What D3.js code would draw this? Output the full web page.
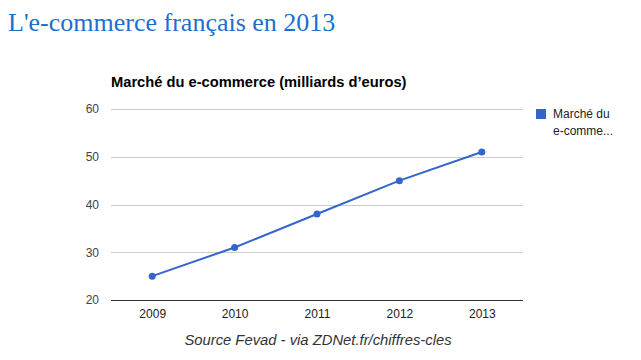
<!DOCTYPE html>
<html><head><meta charset="utf-8">
<script src="https://cdn.jsdelivr.net/npm/d3@7"></script>
<style>body{margin:0;background:#fff;} svg{display:block;}</style>
</head><body>
<script>
const years = ["2009","2010","2011","2012","2013"];
const values = [25, 31, 38, 45, 51];
const yTicks = [20, 30, 40, 50, 60];
const pageTitle = "L'e-commerce français en 2013";
const chartTitle = "Marché du e-commerce (milliards d’euros)";
const legendLines = ["Marché du", "e-comme..."];
const sourceText = "Source Fevad - via ZDNet.fr/chiffres-cles";

const W = 641, H = 360;
const svg = d3.select("body").append("svg").attr("width", W).attr("height", H);

svg.append("text").attr("x", 8).attr("y", 31)
  .attr("font-family", "Georgia, 'Liberation Serif', serif").attr("font-size", 26)
  .attr("fill", "#1a6fcf").text(pageTitle);

const m = {left: 111, right: 523, top: 109, bottom: 300};
const x = d3.scalePoint().domain(years).range([m.left, m.right]).padding(0.5);
const y = d3.scaleLinear().domain([20, 60]).range([m.bottom, m.top]);

svg.append("text").attr("x", 111).attr("y", 87)
  .attr("font-family", "Arial, 'Liberation Sans', sans-serif").attr("font-size", 14.7)
  .attr("font-weight", "bold").attr("fill", "#000").text(chartTitle);

const grid = svg.append("g");
grid.selectAll("line").data(yTicks.slice(1)).join("line")
  .attr("x1", m.left).attr("x2", m.right)
  .attr("y1", d => Math.round(y(d)) + 0.5).attr("y2", d => Math.round(y(d)) + 0.5)
  .attr("stroke", "#cccccc");

const yAxis = d3.axisLeft(y).tickValues(yTicks).tickSize(0).tickPadding(12);
const ya = svg.append("g").attr("transform", `translate(${m.left},0)`).call(yAxis);
ya.select(".domain").remove();
ya.selectAll("text").attr("font-family", "Arial, 'Liberation Sans', sans-serif")
  .attr("font-size", 12).attr("fill", "#444");

const xAxis = d3.axisBottom(x).tickSize(0).tickPadding(9);
const xa = svg.append("g").attr("transform", `translate(0,${Math.round(y(20)) + 0.5})`).call(xAxis);
xa.select(".domain").attr("stroke", "#333").attr("d", `M${m.left},0H${m.right}`);
xa.selectAll("text").attr("font-family", "Arial, 'Liberation Sans', sans-serif")
  .attr("font-size", 12).attr("fill", "#222");

const line = d3.line().x((d, i) => x(years[i])).y(d => y(d));
svg.append("path").datum(values).attr("d", line)
  .attr("fill", "none").attr("stroke", "#3366cc").attr("stroke-width", 2);
svg.selectAll("circle.pt").data(values).join("circle").attr("class", "pt")
  .attr("cx", (d, i) => x(years[i])).attr("cy", d => y(d)).attr("r", 3.5)
  .attr("fill", "#3366cc");

svg.append("rect").attr("x", 536).attr("y", 109).attr("width", 10).attr("height", 10).attr("fill", "#3366cc");
svg.selectAll("text.leg").data(legendLines).join("text").attr("class", "leg")
  .attr("x", 553).attr("y", (d, i) => 118 + i * 17)
  .attr("font-family", "Arial, 'Liberation Sans', sans-serif").attr("font-size", 12)
  .attr("fill", "#222").text(d => d);

svg.append("text").attr("x", 318).attr("y", 345).attr("text-anchor", "middle")
  .attr("font-family", "Arial, 'Liberation Sans', sans-serif").attr("font-size", 14.8)
  .attr("font-style", "italic").attr("fill", "#333").text(sourceText);
</script>
</body></html>
